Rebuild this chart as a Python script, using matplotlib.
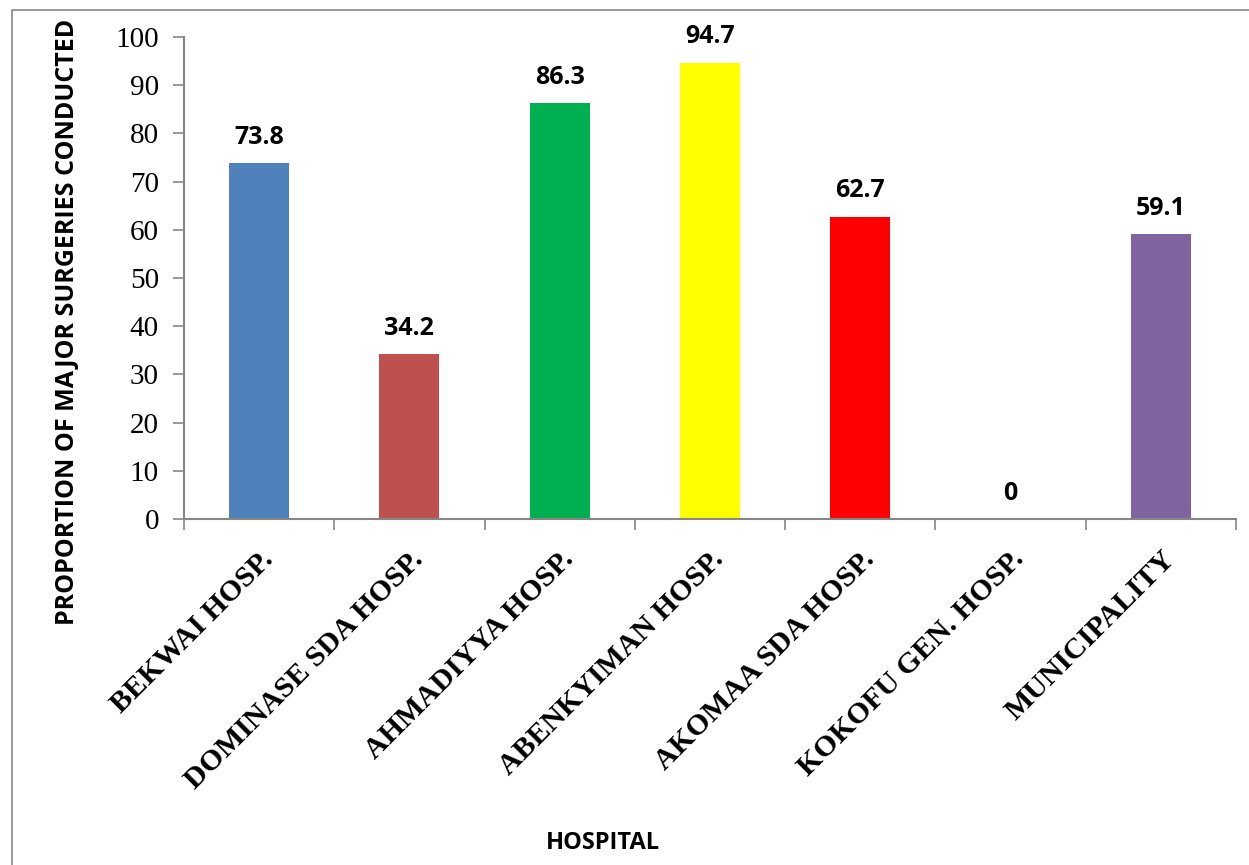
import matplotlib.pyplot as plt
from matplotlib.patches import Rectangle

# --- DATA ---
hospitals = ["BEKWAI HOSP.", "DOMINASE SDA HOSP.", "AHMADIYYA HOSP.",
             "ABENKYIMAN HOSP.", "AKOMAA SDA HOSP.", "KOKOFU GEN. HOSP.",
             "MUNICIPALITY"]
values = [73.8, 34.2, 86.3, 94.7, 62.7, 0, 59.1]
colors = ['#4F81BD', '#C0504D', '#00B050', '#FFFF00', '#FF0000', '#FFFFFF', '#8064A2']

grey = '#868686'
sans = ['Open Sans', 'DejaVu Sans']
serif = ['Liberation Serif', 'DejaVu Serif']

fig = plt.figure(figsize=(12.49, 8.65), dpi=100)
ax = fig.add_axes([184/1249, 1 - 519/865, (1236-184)/1249, (519-37)/865])

x = list(range(len(hospitals)))
ax.bar(x, values, width=0.4, color=colors)

for xi, v in zip(x, values):
    ax.annotate(f'{v:g}', xy=(xi, v), xytext=(0, 14), textcoords='offset points',
                ha='center', va='baseline', fontsize=18, fontweight='bold',
                family=sans)

ax.set_xlim(-0.5, len(hospitals) - 0.5)
ax.set_ylim(0, 100)
ax.set_yticks(range(0, 101, 10))
ax.set_yticklabels([str(t) for t in range(0, 101, 10)], family=serif, fontsize=21)

# category boundary ticks
ax.set_xticks([i - 0.5 for i in range(len(hospitals) + 1)])
ax.set_xticklabels([])
ax.set_xticks(x, minor=True)
ax.set_xticklabels(hospitals, minor=True, rotation=45, ha='right', va='top',
                   rotation_mode='anchor', family=serif, fontsize=21.5,
                   fontweight='bold')
ax.tick_params(axis='x', which='minor', length=0, pad=19)
ax.tick_params(axis='x', which='major', length=8, color=grey, width=1.2)
ax.tick_params(axis='y', length=8, color=grey, width=1.2, pad=10)

for s in ['top', 'right']:
    ax.spines[s].set_visible(False)
for s in ['left', 'bottom']:
    ax.spines[s].set_color(grey)
    ax.spines[s].set_linewidth(1.5)

ax.set_ylabel('PROPORTION OF MAJOR SURGERIES CONDUCTED', family=sans,
              fontsize=18, fontweight='bold')
ax.yaxis.set_label_coords(-0.099, 0.409)
fig.text(603/1249, 1 - 843/865, 'HOSPITAL', ha='center', va='center',
         family=sans, fontsize=17, fontweight='bold')

# chart area border
fig.patches.append(Rectangle((12/1249, -0.1), 1.2, 1 - 10/865 + 0.1,
                             transform=fig.transFigure, fill=False,
                             edgecolor=grey, lw=1.2))

fig.savefig('out.png', dpi=100)
